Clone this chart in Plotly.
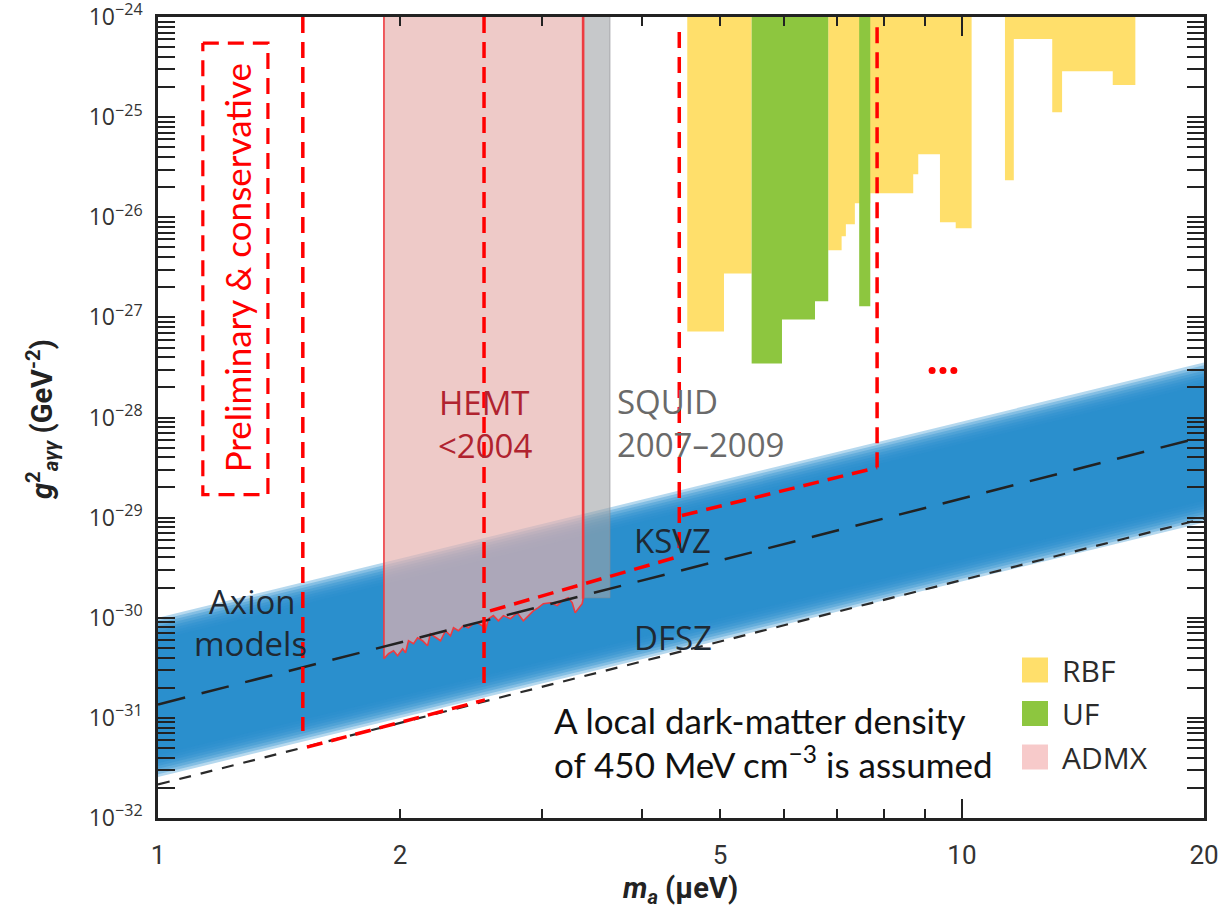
import math
import plotly.graph_objects as go

# ---------------- data ----------------
mass_range = [1, 20]            # micro-eV
g2_range = [1e-32, 1e-24]       # GeV^-2

# axion-model band (edges at m = 1 and m = 20 ueV)
band_mass = [1, 20]
band_upper = [7.76e-31, 2.75e-28]
band_lower = [3.31e-32, 1.15e-29]

# model lines
ksvz_mass = [1, 20]
ksvz_g2 = [1.36e-31, 6.46e-29]
dfsz_mass = [1, 20]
dfsz_g2 = [2.16e-32, 9.8e-30]

# ADMX HEMT (<2004) exclusion, lower boundary
admx_mass = [1.910, 1.935, 1.963, 1.986, 2.015, 2.032, 2.049, 2.079, 2.103, 2.133,
             2.164, 2.182, 2.214, 2.246, 2.278, 2.311, 2.331, 2.364, 2.398, 2.433,
             2.468, 2.496, 2.532, 2.554, 2.576, 2.613, 2.651, 2.689, 2.743, 2.799,
             2.847, 2.888, 2.930, 2.972, 3.015, 3.076, 3.138, 3.183, 3.238, 3.275,
             3.303, 3.332, 3.370, 3.379]
admx_g2 = [3.89e-31, 4.37e-31, 4.68e-31, 4.17e-31, 4.90e-31, 4.47e-31, 5.89e-31, 5.50e-31,
           6.31e-31, 5.89e-31, 5.25e-31, 6.92e-31, 6.31e-31, 5.89e-31, 7.41e-31, 6.61e-31,
           7.94e-31, 7.41e-31, 8.32e-31, 7.94e-31, 8.71e-31, 8.91e-31, 8.32e-31, 7.41e-31,
           9.77e-31, 1.05e-30, 9.33e-31, 1.05e-30, 9.77e-31, 1.12e-30, 9.33e-31, 1.05e-30,
           1.17e-30, 1.26e-30, 1.38e-30, 1.41e-30, 1.32e-30, 1.48e-30, 1.58e-30, 1.41e-30,
           1.12e-30, 1.23e-30, 1.38e-30, 1.55e-30]

# ADMX SQUID (2007-2009)
squid_mass = [3.379, 3.649]
squid_g2 = 1.58e-30

# RBF exclusions: bin edges and lower limits per contiguous group
rbf_edges = [[4.553, 5.058, 5.475],
             [6.818, 7.084, 7.171, 7.358, 7.690, 8.697, 8.823, 9.389, 9.822, 10.28],
             [11.31, 11.60, 12.95, 13.32, 15.40, 16.43]]
rbf_limits = [[7.24e-28, 2.75e-27],
              [4.68e-27, 6.46e-27, 8.51e-27, 1.38e-26, 1.74e-26, 2.69e-26, 4.27e-26, 8.91e-27, 7.76e-27],
              [2.34e-26, 6.03e-25, 1.12e-25, 2.88e-25, 2.09e-25]]

# UF exclusions
uf_edges = [[5.475, 5.972, 6.564, 6.818],
            [7.450, 7.690]]
uf_limits = [[3.47e-28, 9.55e-28, 1.45e-27],
             [1.29e-27]]

# red dashed guides (mass pairs, g2 pairs)
guide_mass = [[1.514, 1.514], [1.532, 2.551], [2.544, 2.544], [2.588, 4.484],
              [4.45, 4.45], [4.484, 7.842], [7.842, 7.842]]
guide_g2 = [[1e-24, 7.4e-32], [5.1e-32, 1.51e-31], [1e-24, 1.95e-31], [1.17e-30, 4.17e-30],
            [7.1e-25, 4.17e-30], [1.05e-29, 3.16e-29], [7.9e-25, 3.16e-29]]
box_mass = [1.137, 1.370]
box_g2 = [5.5e-25, 1.7e-29]
dots_mass = [9.18, 9.47, 9.77]
dots_g2 = [2.95e-28, 2.95e-28, 2.95e-28]

x_tick_vals = [1, 2, 5, 10, 20]
x_tick_text = ["1", "2", "5", "10", "20"]
x_minor_vals = [3, 4, 6, 7, 8, 9]
y_exponents = list(range(-32, -23))
y_tick_vals = [10.0 ** e for e in y_exponents]
y_tick_text = ["10<sup>\u2212%d</sup>" % (-e) for e in y_exponents]
y_minor_vals = [k * 10.0 ** e for e in y_exponents[:-1] for k in range(2, 10)]

legend_names = ["RBF", "UF", "ADMX"]
legend_colors = ["#ffdf6b", "#8dc63f", "#f7caca"]

# ---------------- styling ----------------
BLUE = "38,141,205"
YELLOW = "#ffdf6b"
GREEN = "#8dc63f"
RED = "#ff0000"
TOP = g2_range[1]

fig = go.Figure()

# fuzzy blue band: stacked translucent layers
n_layers = 9
fade = 0.11  # decades
for i in range(n_layers):
    s = fade * (1 - 2 * i / (n_layers - 1))
    xs = band_mass + band_mass[::-1]
    ys = [v * 10 ** s for v in band_upper] + [v * 10 ** (-s) for v in band_lower[::-1]]
    fig.add_trace(go.Scatter(x=xs, y=ys, fill="toself", mode="lines", line=dict(width=0),
                             fillcolor="rgba(%s,0.34)" % BLUE, hoverinfo="skip"))


def step_polygon(edges, limits, top):
    xs, ys = [edges[0]], [top]
    for i, b in enumerate(limits):
        xs += [edges[i], edges[i + 1]]
        ys += [b, b]
    xs.append(edges[-1])
    ys.append(top)
    return xs, ys


for e, l in zip(rbf_edges, rbf_limits):
    xs, ys = step_polygon(e, l, TOP)
    fig.add_trace(go.Scatter(x=xs, y=ys, fill="toself", mode="lines", line=dict(width=0),
                             fillcolor=YELLOW, hoverinfo="skip"))
for e, l in zip(uf_edges, uf_limits):
    xs, ys = step_polygon(e, l, TOP)
    fig.add_trace(go.Scatter(x=xs, y=ys, fill="toself", mode="lines", line=dict(width=0),
                             fillcolor=GREEN, hoverinfo="skip"))

# SQUID grey region
fig.add_trace(go.Scatter(x=[squid_mass[0], squid_mass[0], squid_mass[1], squid_mass[1]],
                         y=[TOP, squid_g2, squid_g2, TOP], fill="toself", mode="lines",
                         line=dict(width=1, color="rgba(140,140,145,0.6)"),
                         fillcolor="rgba(160,163,166,0.6)", hoverinfo="skip"))

# ADMX HEMT region
fig.add_trace(go.Scatter(x=[admx_mass[0]] + admx_mass + [admx_mass[-1]],
                         y=[TOP] + admx_g2 + [TOP], fill="toself", mode="lines",
                         line=dict(width=1.6, color="#ee3b40"),
                         fillcolor="rgba(230,178,175,0.69)", hoverinfo="skip"))
fig.add_trace(go.Scatter(x=[admx_mass[-1], admx_mass[-1]], y=[TOP, admx_g2[-1]], mode="lines",
                         line=dict(width=2.6, color="#ee3b40"), hoverinfo="skip"))

# model lines
fig.add_trace(go.Scatter(x=ksvz_mass, y=ksvz_g2, mode="lines",
                         line=dict(color="#222222", width=2.5, dash="28px,17px"), hoverinfo="skip"))
fig.add_trace(go.Scatter(x=dfsz_mass, y=dfsz_g2, mode="lines",
                         line=dict(color="#2a2a2a", width=2.2, dash="12px,10px"), hoverinfo="skip"))

# red dashed guides
for gx, gy in zip(guide_mass, guide_g2):
    fig.add_trace(go.Scatter(x=gx, y=gy, mode="lines",
                             line=dict(color=RED, width=3.5, dash="16px,9px"), hoverinfo="skip"))
fig.add_trace(go.Scatter(x=[box_mass[0], box_mass[1], box_mass[1], box_mass[0], box_mass[0]],
                         y=[box_g2[0], box_g2[0], box_g2[1], box_g2[1], box_g2[0]], mode="lines",
                         line=dict(color=RED, width=3.2, dash="16px,9px"), hoverinfo="skip"))
fig.add_trace(go.Scatter(x=dots_mass, y=dots_g2, mode="markers",
                         marker=dict(color=RED, size=7), hoverinfo="skip"))

# helper trace for long tick at 10
fig.add_trace(go.Scatter(x=[10], y=[1e-30], xaxis="x2", mode="markers",
                         marker=dict(opacity=0), hoverinfo="skip"))

# ---------------- annotations ----------------
L = math.log10
anns = []


def txt(text, m, g, size, color, family="Open Sans", xanchor="center", angle=0):
    anns.append(dict(text=text, x=L(m), y=L(g), xref="x", yref="y", showarrow=False,
                     xanchor=xanchor, yanchor="middle", textangle=angle,
                     font=dict(family=family, size=size, color=color)))


txt("HEMT", 2.551, 1.41e-28, 33, "#b0232f")
txt("&lt;2004", 2.551, 5.25e-29, 33, "#b0232f")
txt("SQUID", 3.70, 1.45e-28, 33, "#6a6a6a", xanchor="left")
txt("2007\u20132009", 3.70, 5.4e-29, 33, "#6a6a6a", xanchor="left")
txt("KSVZ", 3.888, 5.9e-30, 33, "#1f2933", xanchor="left")
txt("DFSZ", 3.888, 6.3e-31, 33, "#1f2933", xanchor="left")
txt("Axion", 1.31, 1.45e-30, 33, "#1f2933")
txt("models", 1.305, 5.5e-31, 33, "#1f2933")
txt("Preliminary & conservative", 1.254, 3.09e-27, 35, RED, family="Lato", angle=-90)
txt("A local dark-matter density", 3.09, 9.5e-32, 35, "#111111", family="Lato", xanchor="left")
txt("of 450 MeV cm<sup>\u22123</sup> is assumed", 3.09, 3.6e-32, 35, "#111111", family="Lato", xanchor="left")

PLOT_L, PLOT_R, PLOT_T, PLOT_B = 158, 1204, 17, 818


def px_x(p):
    return (p - PLOT_L) / (PLOT_R - PLOT_L)


def px_y(p):
    return (PLOT_B - p) / (PLOT_B - PLOT_T)


shapes = []
for i, (name, col) in enumerate(zip(legend_names, legend_colors)):
    cy = 670 + 43.5 * i
    shapes.append(dict(type="rect", xref="paper", yref="paper", x0=px_x(1022), x1=px_x(1048),
                       y0=px_y(cy - 12.5), y1=px_y(cy + 12.5), fillcolor=col, line=dict(width=0)))
    anns.append(dict(text=name, xref="paper", yref="paper", x=px_x(1060), y=px_y(cy),
                     xanchor="left", yanchor="middle", showarrow=False,
                     font=dict(family="Open Sans", size=30, color="#2b2b2b")))

# axis titles
anns.append(dict(text="<b><i>m</i><sub><i>a</i></sub> (\u03bceV)</b>", xref="paper", yref="paper",
                 x=px_x(680), y=px_y(890), xanchor="center", yanchor="middle", showarrow=False,
                 font=dict(family="Roboto", size=29, color="#222")))
anns.append(dict(text="<b><i>g</i><sup>2</sup><sub><i>a\u03b3\u03b3</i></sub> (GeV<sup>-2</sup>)</b>",
                 xref="paper", yref="paper", x=px_x(42), y=px_y(420), xanchor="center",
                 yanchor="middle", textangle=-90, showarrow=False,
                 font=dict(family="Roboto", size=29, color="#222")))

axis_common = dict(type="log", showgrid=False, zeroline=False, ticks="inside", tickwidth=2,
                   tickcolor="#222", automargin=False, ticklabeloverflow="allow")
xr = [L(mass_range[0]), L(mass_range[1])]
yr = [L(g2_range[0]) - 0.0005, L(g2_range[1]) + 0.0005]

fig.update_layout(
    width=1222, height=909, autosize=False,
    margin=dict(l=PLOT_L, r=1222 - PLOT_R, t=PLOT_T, b=909 - PLOT_B, autoexpand=False),
    plot_bgcolor="white", paper_bgcolor="white",
    showlegend=False,
    xaxis=dict(**axis_common, range=xr,
               tickvals=x_tick_vals, ticktext=x_tick_text, ticklen=9,
               showline=True, linecolor="#222", linewidth=2.5, mirror="allticks",
               ticklabelstandoff=12,
               tickfont=dict(family="Roboto", size=26, color="#333"),
               minor=dict(tickvals=x_minor_vals, ticks="inside", ticklen=9, tickwidth=2,
                          tickcolor="#222", showgrid=False)),
    xaxis2=dict(**axis_common, range=xr, overlaying="x",
                anchor="y", side="bottom", tickvals=[10], ticklen=19, showticklabels=False,
                showline=False, mirror="allticks"),
    yaxis=dict(**axis_common, range=yr,
               tickvals=y_tick_vals, ticktext=y_tick_text, ticklen=17,
               showline=True, linecolor="#222", linewidth=2.5, mirror="allticks",
               ticklabelstandoff=8,
               tickfont=dict(family="Open Sans", size=23, color="#333"),
               minor=dict(tickvals=y_minor_vals, ticks="inside", ticklen=9, tickwidth=2,
                          tickcolor="#222", showgrid=False)),
    annotations=anns,
    shapes=shapes,
)

fig.write_html("out.html", config={"displayModeBar": False, "responsive": False},
               post_script="document.body.style.margin='0px';")
